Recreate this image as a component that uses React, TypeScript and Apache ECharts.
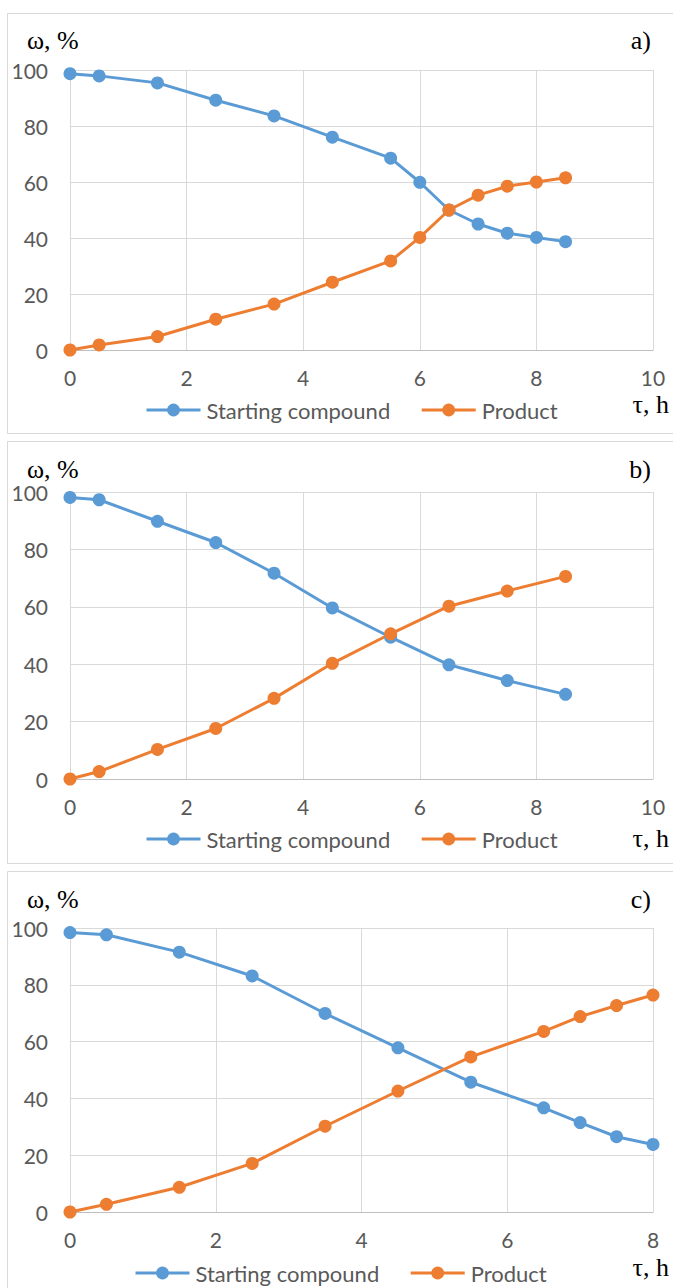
import React, { useEffect, useRef } from "react";
import * as echarts from "echarts";

const timeA = [0, 0.5, 1.5, 2.5, 3.5, 4.5, 5.5, 6, 6.5, 7, 7.5, 8, 8.5];
const startA = [98.7, 97.9, 95.4, 89.2, 83.6, 76, 68.5, 59.9, 50, 45, 41.7, 40.2, 38.7];
const productA = [0, 1.8, 4.8, 11, 16.4, 24.2, 31.8, 40.2, 50, 55.3, 58.5, 60, 61.5];

const timeB = [0, 0.5, 1.5, 2.5, 3.5, 4.5, 5.5, 6.5, 7.5, 8.5];
const startB = [98.1, 97.3, 89.8, 82.4, 71.7, 59.6, 49.4, 39.8, 34.3, 29.5];
const productB = [0, 2.6, 10.3, 17.6, 28.1, 40.3, 50.6, 60.2, 65.5, 70.6];

const timeC = [0, 0.5, 1.5, 2.5, 3.5, 4.5, 5.5, 6.5, 7, 7.5, 8];
const startC = [98.4, 97.6, 91.5, 83.1, 69.9, 57.8, 45.7, 36.7, 31.5, 26.5, 23.8];
const productC = [0, 2.7, 8.7, 17.1, 30.2, 42.6, 54.6, 63.6, 68.8, 72.7, 76.4];

const seriesNames = ["Starting compound", "Product"];
const panelLabels = ["a)", "b)", "c)"];
const yAxisTitle = "ω, %";
const xAxisTitle = "τ, h";

const BLUE = "#5B9BD5";
const ORANGE = "#ED7D31";
const GRID = "#d9d9d9";
const LABEL = "#595959";
const SANS = "Lato, 'Noto Sans', sans-serif";
const SERIF = "'Liberation Serif', 'DejaVu Serif', serif";

const panels = [
  { top: 70, bottom: 350, xMax: 10, time: timeA, start: startA, product: productA, boxTop: 13.5, boxH: 420, legendLeft: 140, legendY: 409, titleY: 40, tauY: 404 },
  { top: 492, bottom: 779, xMax: 10, time: timeB, start: startB, product: productB, boxTop: 441.5, boxH: 422, legendLeft: 140, legendY: 838, titleY: 469, tauY: 838 },
  { top: 928, bottom: 1212, xMax: 8, time: timeC, start: startC, product: productC, boxTop: 871.5, boxH: 500, legendLeft: 129, legendY: 1272, titleY: 899, tauY: 1267 },
];

export default function App() {
  const ref = useRef<HTMLDivElement>(null);
  useEffect(() => {
    document.body.style.margin = "0";
    const chart = echarts.init(ref.current!, undefined, { renderer: "svg" });
    const grids: any[] = [];
    const xAxes: any[] = [];
    const yAxes: any[] = [];
    const series: any[] = [];
    const legends: any[] = [];
    const graphics: any[] = [];
    panels.forEach((p, i) => {
      grids.push({ left: 70, right: 20, top: p.top, height: p.bottom - p.top });
      xAxes.push({
        type: "value", gridIndex: i, min: 0, max: p.xMax, interval: 2,
        axisLine: { show: true, lineStyle: { color: "#bfbfbf", width: 1 } },
        axisTick: { show: false },
        axisLabel: { color: LABEL, fontFamily: SANS, fontSize: 21, margin: 17 },
        splitLine: { show: true, lineStyle: { color: GRID, width: 1 } },
      });
      yAxes.push({
        type: "value", gridIndex: i, min: 0, max: 100, interval: 20,
        axisLine: { show: false }, axisTick: { show: false },
        axisLabel: { color: LABEL, fontFamily: SANS, fontSize: 21, margin: 22 },
        splitLine: { show: true, lineStyle: { color: GRID, width: 1 } },
      });
      const mk = (name: string, vals: number[], color: string) => ({
        type: "line", name, xAxisIndex: i, yAxisIndex: i,
        data: p.time.map((t, k) => [t, vals[k]]),
        symbol: "circle", symbolSize: 13,
        lineStyle: { color, width: 3 }, itemStyle: { color },
        z: 3,
      });
      series.push(mk(seriesNames[0], p.start, BLUE));
      series.push(mk(seriesNames[1], p.product, ORANGE));
      legends.push({
        data: seriesNames, left: p.legendLeft, top: p.legendY - 15, itemWidth: 54, itemHeight: 16,
        itemGap: 30, selectedMode: false,
        lineStyle: { width: 3 },
        textStyle: { color: LABEL, fontFamily: SANS, fontSize: 22, padding: [0, 0, 0, 1] },
      });
      graphics.push({
        type: "rect", shape: { x: 7.5, y: p.boxTop, width: 700, height: p.boxH },
        style: { fill: "none", stroke: GRID, lineWidth: 1 }, z: -1,
      });
      graphics.push({
        type: "text", x: 27, y: p.titleY, style: { text: yAxisTitle, font: `26px ${SERIF}`, fill: "#000", textVerticalAlign: "middle" },
      });
      graphics.push({
        type: "text", x: 651, y: p.titleY, style: { text: panelLabels[i], font: `26px ${SERIF}`, fill: "#000", textAlign: "right", textVerticalAlign: "middle" },
      });
      graphics.push({
        type: "text", x: 669, y: p.tauY, style: { text: xAxisTitle, font: `26px ${SERIF}`, fill: "#000", textAlign: "right", textVerticalAlign: "middle" },
      });
    });
    chart.setOption({
      animation: false,
      backgroundColor: "#fff",
      grid: grids, xAxis: xAxes, yAxis: yAxes, series, legend: legends, graphic: graphics,
    });
    return () => chart.dispose();
  }, []);
  return <div ref={ref} style={{ width: 673, height: 1288 }} />;
}
